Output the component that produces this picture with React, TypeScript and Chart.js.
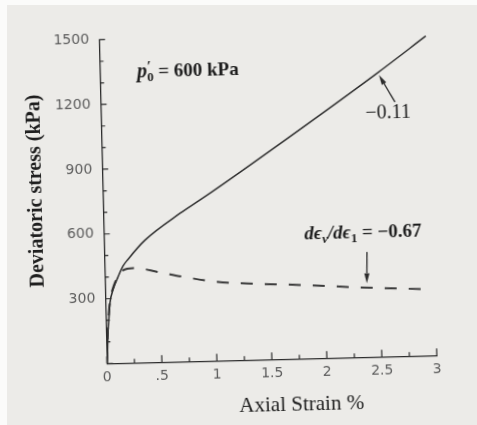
import { useEffect, useRef } from 'react';
import { Chart, registerables } from 'chart.js';

Chart.register(...registerables);

// Drained triaxial test, p'0 = 600 kPa: deviatoric stress against axial strain
const strainSolid = [0, 0.01, 0.016, 0.029, 0.041, 0.071, 0.12, 0.168, 0.214, 0.373, 0.7, 0.88, 1.345, 2.52, 2.97];
const stressSolid = [0, 76, 141, 215, 280, 340, 400, 450, 480, 567, 688, 746, 903, 1314, 1480];

const strainDashed = [0, 0.012, 0.03, 0.045, 0.072, 0.11, 0.16, 0.267, 0.485, 0.72, 0.965, 1.19, 1.77, 2.38, 2.89];
const stressDashed = [0, 130, 240, 300, 349, 395, 428, 439, 418, 392, 370, 358, 342, 322, 309];

const xTicks = [0, 0.5, 1, 1.5, 2, 2.5, 3];
const xTickLabels = ['0', '.5', '1', '1.5', '2', '2.5', '3'];
const yTicks = [0, 300, 600, 900, 1200, 1500];
const yTickLabels = ['', '300', '600', '900', '1200', '1500'];

const xTitle = 'Axial Strain %';
const yTitle = 'Deviatoric stress (kPa)';

// annotation anchors, in data units
const p0Anchor = { x: 0.338, y: 1350 };
const slopeLabel = '\u22120.11';
const slopeLabelAt = { x: 2.61, y: 1128 };
const slopeArrowFrom = { x: 2.676, y: 1178 };
const slopeArrowTo = { x: 2.536, y: 1305 };
const dilatancyValue = '\u22120.67';
const dilatancyLabelAt = { x: 2.356, y: 578 };
const dilatancyArrowFrom = { x: 2.388, y: 487 };
const dilatancyArrowTo = { x: 2.38, y: 342 };

const INK = '#2c2c2c';
const SERIF = '"Liberation Serif", "DejaVu Serif", serif';

type Run = { text: string; font: string; dy?: number; stack?: boolean };

// draws a row of text pieces; a piece marked "stack" does not advance the pen,
// so the next piece sits directly under/over it
function drawRuns(ctx: CanvasRenderingContext2D, x: number, y: number, runs: Run[], align: 'left' | 'center') {
  let total = 0;
  for (const r of runs) {
    ctx.font = r.font;
    if (!r.stack) total += ctx.measureText(r.text).width;
  }
  let cx = align === 'center' ? x - total / 2 : x;
  ctx.textAlign = 'left';
  ctx.textBaseline = 'alphabetic';
  for (const r of runs) {
    ctx.font = r.font;
    ctx.fillText(r.text, cx, y + (r.dy || 0));
    if (!r.stack) cx += ctx.measureText(r.text).width;
  }
}

function arrow(ctx: CanvasRenderingContext2D, x0: number, y0: number, x1: number, y1: number) {
  const ang = Math.atan2(y1 - y0, x1 - x0);
  const head = 10;
  const half = 2.6;
  const bx = x1 - head * Math.cos(ang);
  const by = y1 - head * Math.sin(ang);
  ctx.beginPath();
  ctx.moveTo(x0, y0);
  ctx.lineTo(bx, by);
  ctx.lineWidth = 1.3;
  ctx.stroke();
  ctx.beginPath();
  ctx.moveTo(x1, y1);
  ctx.lineTo(bx - half * Math.sin(ang), by + half * Math.cos(ang));
  ctx.lineTo(bx + half * Math.sin(ang), by - half * Math.cos(ang));
  ctx.closePath();
  ctx.fill();
}

const overlay = {
  id: 'overlay',
  afterDraw(chart: any) {
    const { ctx, chartArea } = chart;
    const x = chart.scales.x;
    const y = chart.scales.y;
    ctx.save();
    ctx.strokeStyle = INK;
    ctx.fillStyle = INK;
    ctx.lineWidth = 1.2;

    // inward tick marks: major at labelled values, minor in between
    ctx.beginPath();
    for (let i = 0; i <= 12; i++) {
      const v = i * 0.25;
      const px = x.getPixelForValue(v);
      const len = i % 2 === 0 ? 7 : 4;
      ctx.moveTo(px, chartArea.bottom);
      ctx.lineTo(px, chartArea.bottom - len);
    }
    for (let i = 0; i <= 15; i++) {
      const v = i * 100;
      const py = y.getPixelForValue(v);
      const len = i % 3 === 0 ? 6 : 4;
      ctx.moveTo(chartArea.left, py);
      ctx.lineTo(chartArea.left + len, py);
    }
    ctx.stroke();

    // axis titles
    ctx.fillStyle = '#1e1e1e';
    ctx.save();
    ctx.translate(chartArea.left - 66.5, 186);
    ctx.rotate(-Math.PI / 2);
    ctx.font = `bold 20px ${SERIF}`;
    ctx.textAlign = 'center';
    ctx.textBaseline = 'middle';
    ctx.fillText(yTitle, 0, 0);
    ctx.restore();

    ctx.font = `21px ${SERIF}`;
    ctx.textAlign = 'center';
    ctx.textBaseline = 'middle';
    ctx.fillText(xTitle, 297, chartArea.bottom + 46);

    // p'0 = 600 kPa
    ctx.fillStyle = '#1e1e1e';
    drawRuns(ctx, x.getPixelForValue(p0Anchor.x), y.getPixelForValue(p0Anchor.y) + 6, [
      { text: 'p', font: `italic bold 20px ${SERIF}` },
      { text: '\u2032', font: `bold 15px ${SERIF}`, dy: -6, stack: true },
      { text: '0', font: `bold 13px ${SERIF}`, dy: 4 },
      { text: ' = 600 kPa', font: `bold 19px ${SERIF}` },
    ], 'left');

    // slope label near the end of the stress curve
    ctx.font = `20px ${SERIF}`;
    ctx.textAlign = 'center';
    ctx.textBaseline = 'middle';
    ctx.fillText(slopeLabel, x.getPixelForValue(slopeLabelAt.x), y.getPixelForValue(slopeLabelAt.y));
    ctx.fillStyle = INK;
    arrow(ctx, x.getPixelForValue(slopeArrowFrom.x), y.getPixelForValue(slopeArrowFrom.y),
      x.getPixelForValue(slopeArrowTo.x), y.getPixelForValue(slopeArrowTo.y));

    // dilatancy label over the dashed curve
    ctx.fillStyle = '#1e1e1e';
    drawRuns(ctx, x.getPixelForValue(dilatancyLabelAt.x), y.getPixelForValue(dilatancyLabelAt.y) + 6, [
      { text: 'd\u03f5', font: `italic bold 19px ${SERIF}` },
      { text: 'v', font: `italic bold 13px ${SERIF}`, dy: 4 },
      { text: '/d\u03f5', font: `italic bold 19px ${SERIF}` },
      { text: '1', font: `bold 13px ${SERIF}`, dy: 4 },
      { text: ' = ' + dilatancyValue, font: `bold 19px ${SERIF}` },
    ], 'center');
    ctx.fillStyle = INK;
    arrow(ctx, x.getPixelForValue(dilatancyArrowFrom.x), y.getPixelForValue(dilatancyArrowFrom.y),
      x.getPixelForValue(dilatancyArrowTo.x), y.getPixelForValue(dilatancyArrowTo.y));

    ctx.restore();
  },
};

export default function App() {
  const canvasRef = useRef<HTMLCanvasElement | null>(null);

  useEffect(() => {
    document.body.style.margin = '0';
    const canvas = canvasRef.current;
    if (!canvas) return;
    const chart = new Chart(canvas, {
      type: 'line',
      data: {
        datasets: [
          {
            label: 'q',
            data: strainSolid.map((s, i) => ({ x: s, y: stressSolid[i] })),
            borderColor: INK,
            borderWidth: 1.5,
            pointRadius: 0,
            cubicInterpolationMode: 'monotone',
          },
          {
            label: 'q dashed',
            data: strainDashed.map((s, i) => ({ x: s, y: stressDashed[i] })),
            borderColor: '#3a3a3a',
            borderWidth: 2,
            borderDash: [12, 12],
            pointRadius: 0,
            cubicInterpolationMode: 'monotone',
          },
        ],
      },
      options: {
        responsive: false,
        animation: false,
        devicePixelRatio: 1,
        layout: { padding: { left: 0, right: 43.7, top: 36.4, bottom: 0 } },
        plugins: { legend: { display: false }, tooltip: { enabled: false } },
        scales: {
          x: {
            type: 'linear',
            min: 0,
            max: 3,
            afterBuildTicks: (scale: any) => {
              scale.ticks = xTicks.map((v) => ({ value: v }));
            },
            afterFit: (scale: any) => {
              scale.height = 64.7;
            },
            grid: { display: true, drawOnChartArea: false, drawTicks: false },
            border: { display: true, color: INK, width: 1.3 },
            ticks: {
              padding: 6,
              color: '#5c5c5c',
              font: { family: '"DejaVu Sans", sans-serif', size: 14 },
              maxRotation: 0,
              autoSkip: false,
              callback: (_v: any, i: number) => xTickLabels[i],
            },
          },
          y: {
            type: 'linear',
            min: 0,
            max: 1500,
            afterBuildTicks: (scale: any) => {
              scale.ticks = yTicks.map((v) => ({ value: v }));
            },
            afterFit: (scale: any) => {
              scale.width = 103.3;
            },
            grid: { display: true, drawOnChartArea: false, drawTicks: false },
            border: { display: true, color: INK, width: 1.3 },
            ticks: {
              padding: 10,
              color: '#5c5c5c',
              font: { family: '"DejaVu Sans", sans-serif', size: 14 },
              autoSkip: false,
              callback: (_v: any, i: number) => yTickLabels[i],
            },
          },
        },
      },
      plugins: [overlay],
    } as any);
    return () => chart.destroy();
  }, []);

  return (
    <div style={{ position: 'relative', width: 477, height: 425, background: '#fbfbfa', overflow: 'hidden' }}>
      <div style={{ position: 'absolute', left: 7, top: 5, right: 0, bottom: 0, background: '#ecebe8' }} />
      <canvas
        ref={canvasRef}
        width={477}
        height={425}
        style={{
          position: 'absolute',
          left: 0,
          top: 0,
          width: 477,
          height: 425,
          transform: 'rotate(-1.4deg)',
          transformOrigin: '50% 50%',
        }}
      />
    </div>
  );
}
